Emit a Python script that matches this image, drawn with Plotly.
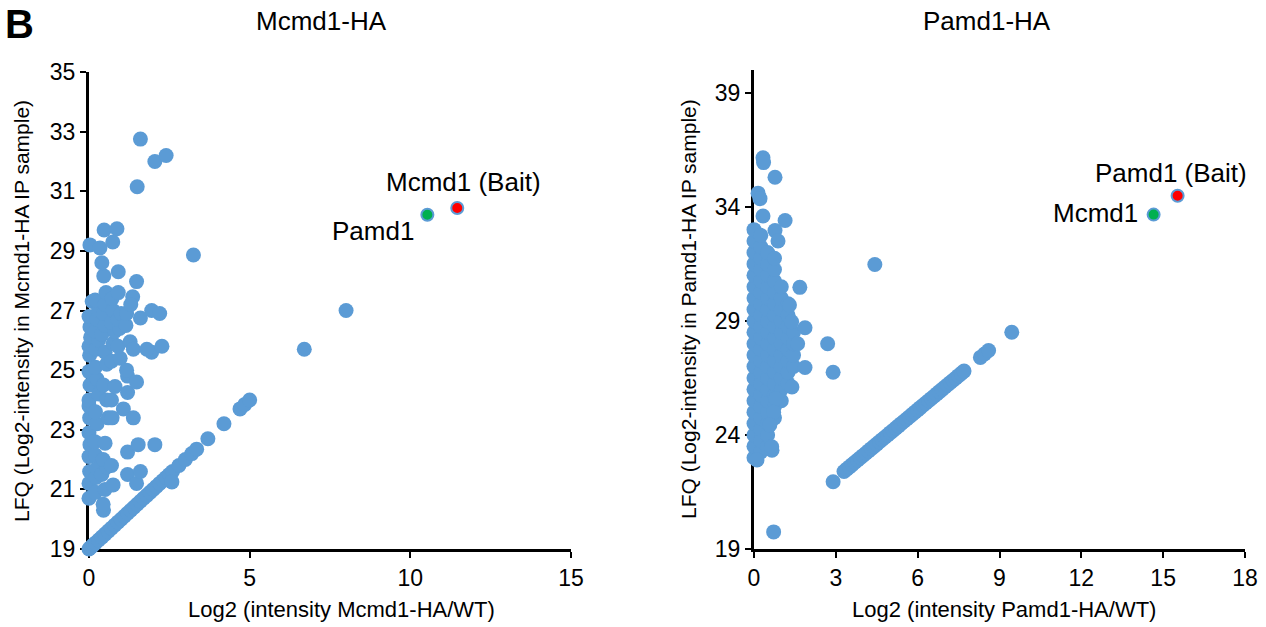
import plotly.graph_objects as go

# ---------------- Left panel: Mcmd1-HA ----------------
mc_diag_x = [0.0, 0.05, 0.1, 0.15, 0.2, 0.3, 0.4, 0.5, 0.6, 0.7, 0.8, 0.9, 1.0, 1.1, 1.2, 1.3,
             1.4, 1.5, 1.6, 1.7, 1.8, 1.9, 2.0, 2.1, 2.2, 2.3, 2.4, 2.5, 2.6, 2.8, 3.0, 3.2,
             3.35, 3.7, 4.2, 4.7, 4.85, 5.0, 6.7, 8.0]
mc_diag_y = [19.0, 19.05, 19.1, 19.15, 19.2, 19.3, 19.4, 19.5, 19.6, 19.7, 19.8, 19.9, 20.0, 20.1,
             20.2, 20.3, 20.4, 20.5, 20.6, 20.7, 20.8, 20.9, 21.0, 21.1, 21.2, 21.3, 21.4, 21.5,
             21.6, 21.8, 22.0, 22.2, 22.35, 22.7, 23.2, 23.7, 23.85, 24.0, 25.7, 27.0]

mc_clu_x = [0.0, 0.0, 0.02, 0.0, 0.03, 0.0, 0.02, 0.0, 0.0, 0.03, 0.0, 0.02, 0.0, 0.05, 0.03, 0.0, 0.1, 0.03,
            0.2, 0.22, 0.25, 0.2, 0.18, 0.25, 0.2, 0.3, 0.25, 0.2, 0.22, 0.3, 0.2, 0.25, 0.3, 0.19, 0.34,
            0.45, 0.44, 0.5, 0.4, 0.55, 0.44, 0.5, 0.6, 0.55, 0.45, 0.55, 0.5, 0.4, 0.5, 0.45, 0.5, 0.53, 0.46, 0.4, 0.47,
            0.75, 0.7, 0.72, 0.7, 0.81, 0.7, 0.75, 0.8, 0.7, 0.75, 0.72, 0.74,
            0.97, 0.9, 0.95, 0.9, 1.0, 0.91, 0.91, 0.87,
            1.2, 1.2, 1.07, 1.2, 1.2, 1.17, 1.28, 1.15, 1.17, 1.36, 1.3,
            1.48, 1.6, 1.53, 1.38, 1.48, 1.38, 1.6, 1.48, 1.5, 1.6,
            2.05, 1.95, 1.8, 2.27, 1.95, 2.2, 2.05, 2.4,
            3.25, 2.58]
mc_clu_y = [20.7, 21.2, 21.6, 22.1, 22.5, 22.9, 23.4, 23.8, 24.0, 24.5, 24.95, 25.5, 25.8, 26.1, 26.45, 26.8, 27.3, 29.2,
            20.9, 21.4, 21.7, 22.15, 22.6, 23.2, 23.6, 24.2, 24.7, 25.1, 25.7, 26.0, 26.3, 26.7, 27.0, 27.35, 29.1,
            20.3, 20.5, 21.0, 21.5, 21.75, 22.0, 22.55, 23.4, 24.0, 24.5, 25.2, 25.6, 26.2, 26.5, 26.9, 27.2, 27.6, 28.16, 28.6, 29.7,
            21.15, 21.8, 23.4, 24.0, 24.45, 25.3, 25.9, 26.3, 26.6, 27.0, 27.4, 29.3,
            25.4, 25.8, 26.4, 26.7, 26.9, 27.6, 28.3, 29.74,
            21.5, 22.25, 23.7, 24.25, 24.8, 25.0, 25.95, 26.5, 26.9, 27.46, 27.2,
            21.2, 21.6, 22.5, 23.4, 24.6, 25.7, 26.75, 27.97, 31.15, 32.75,
            22.5, 25.6, 25.7, 25.8, 27.0, 26.9, 32.0, 32.2,
            28.86, 21.25]

mc_bait = (11.46, 30.44)   # Mcmd1 (Bait)
mc_partner = (10.53, 30.21)  # Pamd1

# ---------------- Right panel: Pamd1-HA ----------------
pa_diag_x = [2.9, 3.3, 3.4, 3.5, 3.6, 3.7, 3.8, 3.9, 4.0, 4.1, 4.2, 4.3, 4.4, 4.5, 4.6, 4.7, 4.8,
             4.9, 5.0, 5.1, 5.2, 5.3, 5.4, 5.5, 5.6, 5.7, 5.8, 5.9, 6.0, 6.1, 6.2, 6.3, 6.4, 6.5,
             6.6, 6.7, 6.8, 6.9, 7.0, 7.1, 7.2, 7.3, 7.4, 7.5, 7.6, 7.7, 8.3, 8.45, 8.6, 9.45]
pa_diag_y = [21.95, 22.4, 22.5, 22.6, 22.7, 22.8, 22.9, 23.0, 23.1, 23.2, 23.3, 23.4, 23.5, 23.6,
             23.7, 23.8, 23.9, 24.0, 24.1, 24.2, 24.3, 24.4, 24.5, 24.6, 24.7, 24.8, 24.9, 25.0,
             25.1, 25.2, 25.3, 25.4, 25.5, 25.6, 25.7, 25.8, 25.9, 26.0, 26.1, 26.2, 26.3, 26.4,
             26.5, 26.6, 26.7, 26.8, 27.4, 27.55, 27.7, 28.5]

pa_blob_x = ([0.0] * 21 + [0.25] * 20 + [0.5] * 18 + [0.75] * 15 + [1.0] * 11 + [1.25] * 8 + [1.45] * 4)
pa_blob_y = [23.0, 23.5, 24.0, 24.5, 25.0, 25.5, 26.0, 26.5, 27.0, 27.5, 28.0, 28.5, 29.0, 29.5, 30.0,
             30.5, 31.0, 31.5, 32.0, 32.5, 33.0,
             23.25, 23.75, 24.25, 24.75, 25.25, 25.75, 26.25, 26.75, 27.25, 27.75, 28.25, 28.75,
             29.25, 29.75, 30.25, 30.75, 31.25, 31.75, 32.25, 32.75,
             23.5, 24.0, 24.5, 25.0, 25.5, 26.0, 26.5, 27.0, 27.5, 28.0, 28.5, 29.0, 29.5, 30.0,
             30.5, 31.0, 31.5, 32.0,
             24.75, 25.25, 25.75, 26.25, 26.75, 27.25, 27.75, 28.25, 28.75, 29.25, 29.75, 30.25,
             30.75, 31.25, 31.75,
             25.5, 26.0, 26.5, 27.0, 27.5, 28.0, 28.5, 29.0, 29.5, 30.0, 30.5,
             26.25, 26.75, 27.25, 27.75, 28.25, 28.75, 29.25, 29.75,
             27.0, 27.5, 28.0, 28.5]

pa_out_x = [0.33, 0.35, 0.77, 0.15, 0.22, 0.33, 1.14, 0.77, 0.88, 4.43, 1.68, 1.3, 1.87, 2.7,
            2.9, 1.87, 1.39, 0.66, 0.65, 0.11, 0.72, 1.6, 1.38, 0.8, 0.72, 0.58]
pa_out_y = [36.15, 35.94, 35.3, 34.6, 34.36, 33.6, 33.4, 32.96, 32.5, 31.47, 30.47, 29.7, 28.7,
            28.0, 26.75, 26.96, 26.1, 23.33, 23.48, 22.9, 19.75, 28.0, 28.96, 25.6, 25.0, 24.44]

pa_bait = (15.53, 34.49)    # Pamd1 (Bait)
pa_partner = (14.65, 33.66)  # Mcmd1

BLUE = "#5B9BD5"
FONT = "Liberation Sans, Arial, sans-serif"
W, H = 1266, 627

fig = go.Figure()


def blue(x, y, xa, ya):
    fig.add_trace(go.Scatter(x=x, y=y, mode="markers", xaxis=xa, yaxis=ya,
                             marker=dict(color=BLUE, size=15, line=dict(width=0)),
                             cliponaxis=False, showlegend=False, hoverinfo="x+y"))


def special(pt, color, xa, ya):
    fig.add_trace(go.Scatter(x=[pt[0]], y=[pt[1]], mode="markers", xaxis=xa, yaxis=ya,
                             marker=dict(color=color, size=12, line=dict(color=BLUE, width=2)),
                             cliponaxis=False, showlegend=False))


blue(mc_diag_x, mc_diag_y, "x", "y")
blue(mc_clu_x, mc_clu_y, "x", "y")
special(mc_partner, "#00B050", "x", "y")
special(mc_bait, "#FF0000", "x", "y")

blue(pa_blob_x, pa_blob_y, "x2", "y2")
blue(pa_out_x, pa_out_y, "x2", "y2")
blue(pa_diag_x, pa_diag_y, "x2", "y2")
special(pa_partner, "#00B050", "x2", "y2")
special(pa_bait, "#FF0000", "x2", "y2")

axis_common = dict(showline=True, linecolor="black", linewidth=3, ticks="outside", ticklen=6,
                   tickwidth=2, tickcolor="black", showgrid=False, zeroline=False,
                   tickfont=dict(family=FONT, size=23, color="black"), layer="below traces",
                   fixedrange=True, automargin=False)

fig.update_layout(
    width=W, height=H, margin=dict(l=0, r=0, t=0, b=0, autoexpand=False),
    paper_bgcolor="white", plot_bgcolor="white",
    xaxis=dict(domain=[89 / W, 571 / W], range=[0, 15], tickvals=[0, 5, 10, 15], anchor="y",
               **axis_common),
    yaxis=dict(domain=[78 / H, 555 / H], range=[19, 35], tickvals=list(range(19, 36, 2)),
               anchor="x", **axis_common),
    xaxis2=dict(domain=[754 / W, 1245 / W], range=[0, 18], tickvals=list(range(0, 19, 3)),
                anchor="y2", **axis_common),
    yaxis2=dict(domain=[78 / H, 557 / H], range=[19, 40], tickvals=[19, 24, 29, 34, 39],
                anchor="x2", **axis_common),
)

ann = []
def ptext(text, x, y, size, **kw):
    ann.append(dict(text=text, x=x / W, y=1 - y / H, xref="paper", yref="paper",
                    showarrow=False, font=dict(family=FONT, size=size, color="black"), **kw))

ptext("<b>B</b>", 3, 24, 40, xanchor="left", yanchor="middle")
ptext("Mcmd1-HA", 321, 21, 26, xanchor="center", yanchor="middle")
ptext("Pamd1-HA", 987, 21, 26, xanchor="center", yanchor="middle")
ptext("Log2 (intensity Mcmd1-HA/WT)", 341, 609, 22, xanchor="center", yanchor="middle")
ptext("Log2 (intensity Pamd1-HA/WT)", 1004, 609, 22, xanchor="center", yanchor="middle")
ptext("LFQ (Log2-intensity in Mcmd1-HA IP sample)", 21, 311, 21, xanchor="center",
      yanchor="middle", textangle=-90)
ptext("LFQ (Log2-intensity in Pamd1-HA IP sample)", 688, 309, 21, xanchor="center",
      yanchor="middle", textangle=-90)

def dtext(text, x, y, xa, ya):
    ann.append(dict(text=text, x=x, y=y, xref=xa, yref=ya, showarrow=False,
                    xanchor="center", yanchor="middle",
                    font=dict(family=FONT, size=26, color="black")))

dtext("Mcmd1 (Bait)", 11.65, 31.3, "x", "y")
dtext("Pamd1", 8.83, 29.67, "x", "y")
dtext("Pamd1 (Bait)", 15.27, 35.5, "x2", "y2")
dtext("Mcmd1", 12.53, 33.75, "x2", "y2")

fig.update_layout(annotations=ann)
fig.write_html("out.html", config={"displayModeBar": False},
               post_script="document.body.style.margin='0';document.body.style.overflow='hidden';")
